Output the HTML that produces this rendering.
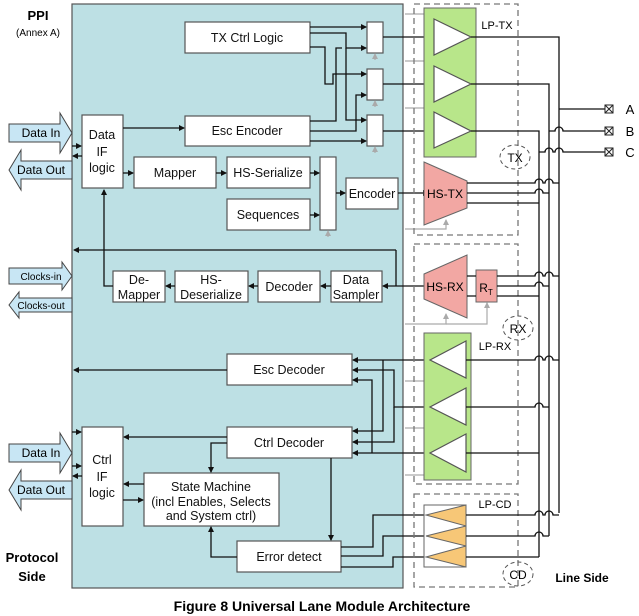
<!DOCTYPE html>
<html><head><meta charset="utf-8"><style>
html,body{margin:0;padding:0;background:#fff;}
svg{display:block;font-family:"Liberation Sans",sans-serif;}
.b{fill:#fff;stroke:#555;stroke-width:1.2}
.t{font-size:12.5px;fill:#111;text-anchor:middle}
.l{stroke:#111;stroke-width:1.3;fill:none}
.g{stroke:#aaa;stroke-width:1.2;fill:none}
.d{stroke:#777;stroke-width:1.3;fill:none;stroke-dasharray:6,4}
</style></head><body>
<svg width="639" height="616" viewBox="0 0 639 616" xmlns="http://www.w3.org/2000/svg">
<defs>
<marker id="a" markerWidth="6" markerHeight="6" refX="5" refY="3" orient="auto" markerUnits="userSpaceOnUse"><path d="M0,0 L6,3 L0,6z" fill="#111"/></marker>
<marker id="ga" markerWidth="6" markerHeight="6" refX="5" refY="3" orient="auto" markerUnits="userSpaceOnUse"><path d="M0,0 L6,3 L0,6z" fill="#aaa"/></marker>
</defs>
<rect x="72" y="4" width="331" height="584" fill="#bde0e4" stroke="#555" stroke-width="1.2"/>
<text x="38" y="20" font-size="13" font-weight="bold" text-anchor="middle">PPI</text>
<text x="38" y="36" font-size="10" text-anchor="middle">(Annex A)</text>
<text x="32" y="562" font-size="13" font-weight="bold" text-anchor="middle">Protocol</text>
<text x="32" y="581" font-size="13" font-weight="bold" text-anchor="middle">Side</text>
<g fill="#c8e6f4" stroke="#444" stroke-width="1">
<path d="M9,124 H60 V113 L72,133 L60,153 V142 H9z"/>
<path d="M72,161 H21 V150 L9,170 L21,190 V179 H72z"/>
<path d="M9,268 H62 V262 L72,276 L62,290 V284 H9z"/>
<path d="M72,298 H19 V292 L9,305 L19,318 V312 H72z"/>
<path d="M9,444 H60 V433 L72,453 L60,473 V462 H9z"/>
<path d="M72,481 H21 V470 L9,490 L21,510 V499 H72z"/>
</g>
<g font-size="12" text-anchor="middle"><text x="41" y="137">Data In</text><text x="41" y="174">Data Out</text>
<text x="41" y="280" font-size="10">Clocks-in</text><text x="41" y="309" font-size="10">Clocks-out</text>
<text x="41" y="457">Data In</text><text x="41" y="494">Data Out</text></g>
<rect class="b" x="185" y="22" width="125" height="31"/><text class="t" x="247" y="42">TX Ctrl Logic</text>
<rect class="b" x="185" y="116" width="125" height="30"/><text class="t" x="247" y="135">Esc Encoder</text>
<rect class="b" x="82" y="115" width="41" height="73"/><text class="t" x="102" y="139">Data</text><text class="t" x="102" y="156">IF</text><text class="t" x="102" y="172">logic</text>
<rect class="b" x="134" y="157" width="82" height="31"/><text class="t" x="175" y="177">Mapper</text>
<rect class="b" x="227" y="157" width="83" height="31"/><text class="t" x="268" y="177">HS-Serialize</text>
<rect class="b" x="227" y="199" width="83" height="31"/><text class="t" x="268" y="219">Sequences</text>
<rect class="b" x="320" y="157" width="16" height="73"/>
<rect class="b" x="346" y="178" width="52" height="31"/><text class="t" x="372" y="198">Encoder</text>
<rect class="b" x="367" y="22" width="16" height="31"/><rect class="b" x="367" y="69" width="16" height="31"/><rect class="b" x="367" y="115" width="16" height="31"/>
<rect class="b" x="113" y="271" width="52" height="31"/><text class="t" x="139" y="284">De-</text><text class="t" x="139" y="299">Mapper</text>
<rect class="b" x="175" y="271" width="73" height="31"/><text class="t" x="211" y="284">HS-</text><text class="t" x="211" y="299">Deserialize</text>
<rect class="b" x="258" y="271" width="62" height="31"/><text class="t" x="289" y="291">Decoder</text>
<rect class="b" x="331" y="271" width="51" height="31"/><text class="t" x="356" y="284">Data</text><text class="t" x="356" y="299">Sampler</text>
<rect class="b" x="227" y="354" width="125" height="31"/><text class="t" x="289" y="374">Esc Decoder</text>
<rect class="b" x="227" y="427" width="125" height="31"/><text class="t" x="289" y="447">Ctrl Decoder</text>
<rect class="b" x="82" y="427" width="41" height="99"/><text class="t" x="102" y="464">Ctrl</text><text class="t" x="102" y="481">IF</text><text class="t" x="102" y="497">logic</text>
<rect class="b" x="144" y="473" width="135" height="53"/><text class="t" x="211" y="491" font-size="13.5">State Machine</text><text class="t" x="211" y="506" font-size="9">(incl Enables, Selects</text><text class="t" x="211" y="520" font-size="9">and System ctrl)</text>
<rect class="b" x="237" y="541" width="104" height="31"/><text class="t" x="289" y="561">Error detect</text>
<g class="l">
<path d="M310,27 H366" marker-end="url(#a)"/><path d="M310,33 H346 V48 H366" marker-end="url(#a)"/>
<path d="M310,47 H325 V84 H333 V74 H366" marker-end="url(#a)"/>
<path d="M346,48 V74" /><path d="M346,74 V120 H366" marker-end="url(#a)"/>
<path d="M310,121 H336 V48 H342" /><path d="M310,131 H356 V95 H366" marker-end="url(#a)"/>
<path d="M310,141 H366" marker-end="url(#a)"/>
<path d="M123,128 H184" marker-end="url(#a)"/><path d="M123,173 H133" marker-end="url(#a)"/>
<path d="M216,173 H226" marker-end="url(#a)"/><path d="M310,173 H319" marker-end="url(#a)"/><path d="M310,215 H319" marker-end="url(#a)"/>
<path d="M336,193 H345" marker-end="url(#a)"/><path d="M398,193 H428" marker-end="url(#a)"/>
<path d="M383,37 H433" marker-end="url(#a)"/><path d="M383,84 H433" marker-end="url(#a)"/><path d="M383,131 H433" marker-end="url(#a)"/>
<path d="M72,146 H81" marker-end="url(#a)"/><path d="M82,156 H73" marker-end="url(#a)"/>
<path d="M396,250 H74" marker-end="url(#a)"/><path d="M396,250 V286"/>
<path d="M424,286 H383" marker-end="url(#a)"/>
<path d="M331,286 H321" marker-end="url(#a)"/><path d="M258,286 H249" marker-end="url(#a)"/><path d="M175,286 H166" marker-end="url(#a)"/>
<path d="M113,286 H104 V190" marker-end="url(#a)"/>
<path d="M227,370 H74" marker-end="url(#a)"/>
<path d="M227,437 H124" marker-end="url(#a)"/><path d="M227,443 H211 V472" marker-end="url(#a)"/>
<path d="M144,484 H124" marker-end="url(#a)"/><path d="M123,500 H143" marker-end="url(#a)"/>
<path d="M331,458 V540" marker-end="url(#a)"/><path d="M237,557 H211 V527" marker-end="url(#a)"/>
<path d="M72,432 H81" marker-end="url(#a)"/><path d="M72,466 H81" marker-end="url(#a)"/><path d="M82,476 H73" marker-end="url(#a)"/>
<path d="M428,360 H353" marker-end="url(#a)"/><path d="M383,360 V431 H353" marker-end="url(#a)"/>
<path d="M428,407 H394 V370 H353" marker-end="url(#a)"/><path d="M394,407 V442 H353" marker-end="url(#a)"/>
<path d="M428,453 H353" marker-end="url(#a)"/><path d="M372,453 V380 H353" marker-end="url(#a)"/>
<path d="M341,547 H373 V515 H428"/><path d="M341,556 H383 V536 H428"/><path d="M341,567 H393 V557 H428"/>
</g>
<g class="g"><path d="M375,60 V54" marker-end="url(#ga)"/><path d="M375,107 V101" marker-end="url(#ga)"/><path d="M375,153 V147" marker-end="url(#ga)"/><path d="M328,237 V231" marker-end="url(#ga)"/>
<path d="M405,14 H455 V20" marker-end="url(#ga)"/><path d="M405,61 H455 V67" marker-end="url(#ga)"/><path d="M405,108 H455 V114" marker-end="url(#ga)"/>
<path d="M405,229 H446 V220" marker-end="url(#ga)"/><path d="M405,324 H446 V314" marker-end="url(#ga)"/><path d="M446,324 H487 V303" marker-end="url(#ga)"/>
<path d="M405,381 H446 V371" marker-end="url(#ga)"/><path d="M405,428 H446 V418" marker-end="url(#ga)"/><path d="M405,475 H446 V465" marker-end="url(#ga)"/></g>
<rect class="d" x="414" y="4" width="104" height="231"/><rect class="d" x="414" y="244" width="104" height="240"/><rect class="d" x="414" y="494" width="104" height="93"/>
<rect x="424" y="8" width="52" height="149" fill="#b8e68a" stroke="#666"/>
<g fill="#fff" stroke="#555" stroke-width="1.2"><path d="M434,19 L471,37 L434,55z"/><path d="M434,66 L471,84 L434,102z"/><path d="M434,112 L471,131 L434,148z"/></g>
<text x="497" y="29" font-size="11" text-anchor="middle">LP-TX</text>
<path d="M424,162 L467,181 V208 L424,225z" fill="#f2a7a3" stroke="#666"/><text x="445" y="198" font-size="12" text-anchor="middle">HS-TX</text>
<path d="M424,274 L467,255 V318 L424,299z" fill="#f2a7a3" stroke="#666"/>
<text x="445" y="291" font-size="12" text-anchor="middle">HS-RX</text>
<rect x="476" y="270" width="21" height="32" fill="#f2a7a3" stroke="#666"/><text x="486" y="292" font-size="12" text-anchor="middle">R<tspan font-size="8" dy="3">T</tspan></text>
<rect x="424" y="333" width="47" height="147" fill="#b8e68a" stroke="#666"/>
<g fill="#fff" stroke="#555" stroke-width="1.2"><path d="M466,341 L430,360 L466,378z"/><path d="M466,388 L430,407 L466,425z"/><path d="M466,434 L430,453 L466,472z"/></g>
<text x="495" y="350" font-size="11" text-anchor="middle">LP-RX</text>
<rect x="424" y="505" width="42" height="62" fill="#fff" stroke="#666"/>
<g fill="#f7c777" stroke="#666"><path d="M466,505 L426,515 L466,526z"/><path d="M466,526 L426,536 L466,546z"/><path d="M466,546 L426,557 L466,567z"/></g>
<text x="495" y="508" font-size="11" text-anchor="middle">LP-CD</text>
<g fill="none" stroke="#555" stroke-dasharray="4,3"><ellipse cx="515" cy="157" rx="15" ry="12"/><ellipse cx="518" cy="328" rx="15" ry="12"/><ellipse cx="518" cy="574" rx="15" ry="12"/></g>
<text x="515" y="162" font-size="12" text-anchor="middle">TX</text><text x="518" y="333" font-size="12" text-anchor="middle">RX</text><text x="518" y="579" font-size="12" text-anchor="middle">CD</text>
<g class="l">
<path d="M471,37 H559 V513"/><path d="M471,84 H549 V536"/><path d="M471,131 H539 V557"/>
<path d="M559,109 H605"/><path d="M549,131 H555 a4,4 0 0 1 8,0 H605"/><path d="M539,152 H545 a4,4 0 0 1 8,0 H555 a4,4 0 0 1 8,0 H605"/>
<path d="M467,183 H535 a4,4 0 0 1 8,0 H545 a4,4 0 0 1 8,0 H559"/><path d="M467,193 H535 a4,4 0 0 1 8,0 H549"/><path d="M467,203 H539"/>
<path d="M497,276 H535 a4,4 0 0 1 8,0 H545 a4,4 0 0 1 8,0 H559"/><path d="M497,286 H535 a4,4 0 0 1 8,0 H549"/><path d="M497,296 H539"/>
<path d="M467,276 H476 M467,296 H476"/>
<path d="M466,360 H535 a4,4 0 0 1 8,0 H545 a4,4 0 0 1 8,0 H559"/><path d="M466,407 H535 a4,4 0 0 1 8,0 H549"/><path d="M466,453 H539"/>
<path d="M466,515 H535 a4,4 0 0 1 8,0 H545 a4,4 0 0 1 8,0 H559"/><path d="M466,536 H535 a4,4 0 0 1 8,0 H549"/><path d="M466,557 H539"/>
</g>
<g fill="#fff" stroke="#222" stroke-width="1"><rect x="605" y="105" width="8" height="8"/><rect x="605" y="127" width="8" height="8"/><rect x="605" y="148" width="8" height="8"/></g>
<g stroke="#222" stroke-width="1"><path d="M605,105 l8,8 M613,105 l-8,8 M605,127 l8,8 M613,127 l-8,8 M605,148 l8,8 M613,148 l-8,8"/></g>
<g font-size="13" text-anchor="middle"><text x="630" y="114">A</text><text x="630" y="136">B</text><text x="630" y="157">C</text></g>
<text x="582" y="582" font-size="12" font-weight="bold" text-anchor="middle">Line Side</text>
<text x="322" y="611" font-size="14" font-weight="bold" text-anchor="middle">Figure 8 Universal Lane Module Architecture</text>
</svg>
</body></html>
